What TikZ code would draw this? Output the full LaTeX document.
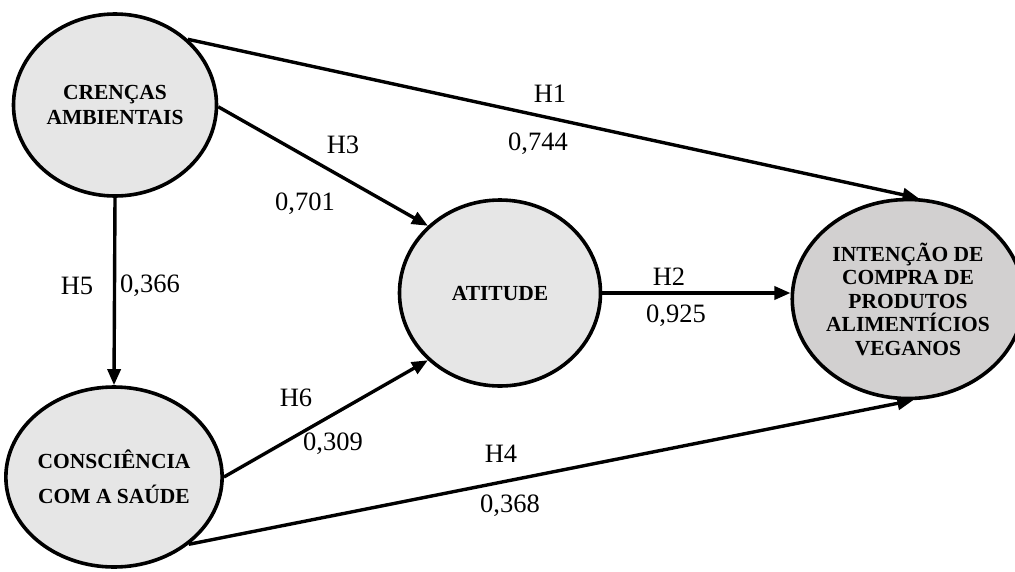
\documentclass[tikz,border=0pt]{standalone}
\usepackage{fontspec}
\setmainfont{Liberation Serif}
\usetikzlibrary{shapes.geometric,arrows.meta}
\definecolor{lightfill}{RGB}{230,230,230}
\definecolor{darkfill}{RGB}{210,208,208}
\tikzset{
  construct/.style={ellipse, draw=black, line width=3.6pt, fill=lightfill, inner sep=0pt,
    align=center, font=\bfseries\fontsize{21.5}{25}\selectfont},
  path/.style={line width=3.4pt, -{Triangle[length=16pt,width=13pt]}},
  lbl/.style={font=\fontsize{26.5}{28}\selectfont, inner sep=0pt}
}
\begin{document}
\begin{tikzpicture}[x=1pt,y=-1pt]
\useasboundingbox (0,0) rectangle (1015,571);
\node[construct, minimum width=203pt, minimum height=182pt] (cre) at (115,105) {CRENÇAS\\AMBIENTAIS};
\node[construct, minimum width=202pt, minimum height=180pt] (con) at (114,477) {CONSCIÊNCIA\\[10pt]COM A SAÚDE};
\node[construct, minimum width=201pt, minimum height=186pt] (ati) at (500,293) {ATITUDE};
\node[construct, fill=darkfill, minimum width=204pt, minimum height=199pt, font=\bfseries\fontsize{21.5}{23.5}\selectfont] (int) at (908,299) {INTENÇÃO DE\\COMPRA DE\\PRODUTOS\\ALIMENTÍCIOS\\VEGANOS};

\draw[path] (cre.42) -- (int.84);
\draw[path] (cre.-1) -- (ati.137);
\draw[path] (cre.south) -- (con.north);
\draw[path] (ati.east) -- (ati.east -| int.west);
\draw[path] (con.0) -- (ati.223);
\draw[path] (con.-42) -- (int.-87);

\node[lbl] (l1) at (550,94) {H1};
\node[lbl] (v1) at (538,144) {0,744};
\node[lbl] (l3) at (343,145) {H3};
\node[lbl] (v3) at (305,204) {0,701};
\node[lbl] (l5) at (77,286) {H5};
\node[lbl] (v5) at (150,286) {0,366};
\node[lbl] (l2) at (669,277) {H2};
\node[lbl] (v2) at (676,316) {0,925};
\node[lbl] (l6) at (296,398) {H6};
\node[lbl] (v6) at (333,444) {0,309};
\node[lbl] (l4) at (501,454) {H4};
\node[lbl] (v4) at (510,506) {0,368};
\end{tikzpicture}
\end{document}
